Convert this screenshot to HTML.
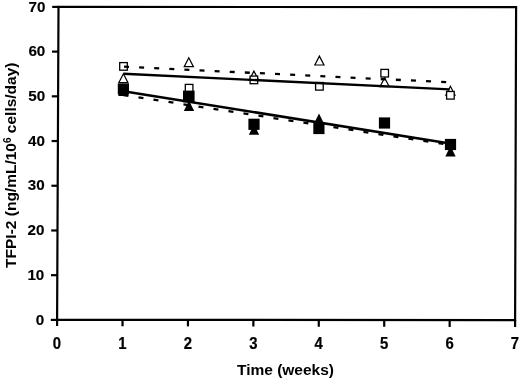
<!DOCTYPE html>
<html><head><meta charset="utf-8"><title>TFPI-2</title>
<style>html,body{margin:0;padding:0;background:#fff}svg{display:block}text{font-family:"Liberation Sans",Arial,Helvetica,sans-serif;font-weight:bold;fill:#000}</style></head><body>
<svg width="520" height="380" viewBox="0 0 520 380">
<rect width="520" height="380" fill="#fff"/>
<polygon points="58.5,6.9 516.1,7.1 515.1,320.05 57.1,319.9" fill="none" stroke="#000" stroke-width="2.2" stroke-linejoin="miter"/>
<line x1="57.10" y1="319.90" x2="57.07" y2="326.10" stroke="#000" stroke-width="2.2"/>
<text transform="translate(57.00,349.0) scale(0.98,1.04)" stroke="#000" stroke-width="0.2" font-size="15.2" text-anchor="middle">0</text>
<line x1="122.53" y1="319.92" x2="122.50" y2="326.24" stroke="#000" stroke-width="2.2"/>
<text transform="translate(122.43,349.0) scale(0.98,1.04)" stroke="#000" stroke-width="0.2" font-size="15.2" text-anchor="middle">1</text>
<line x1="187.96" y1="319.94" x2="187.93" y2="326.37" stroke="#000" stroke-width="2.2"/>
<text transform="translate(187.86,349.0) scale(0.98,1.04)" stroke="#000" stroke-width="0.2" font-size="15.2" text-anchor="middle">2</text>
<line x1="253.39" y1="319.96" x2="253.36" y2="326.51" stroke="#000" stroke-width="2.2"/>
<text transform="translate(253.29,349.0) scale(0.98,1.04)" stroke="#000" stroke-width="0.2" font-size="15.2" text-anchor="middle">3</text>
<line x1="318.81" y1="319.99" x2="318.78" y2="326.64" stroke="#000" stroke-width="2.2"/>
<text transform="translate(318.71,349.0) scale(0.98,1.04)" stroke="#000" stroke-width="0.2" font-size="15.2" text-anchor="middle">4</text>
<line x1="384.24" y1="320.01" x2="384.21" y2="326.78" stroke="#000" stroke-width="2.2"/>
<text transform="translate(384.14,349.0) scale(0.98,1.04)" stroke="#000" stroke-width="0.2" font-size="15.2" text-anchor="middle">5</text>
<line x1="449.67" y1="320.03" x2="449.64" y2="326.91" stroke="#000" stroke-width="2.2"/>
<text transform="translate(449.57,349.0) scale(0.98,1.04)" stroke="#000" stroke-width="0.2" font-size="15.2" text-anchor="middle">6</text>
<line x1="515.10" y1="320.05" x2="515.07" y2="327.05" stroke="#000" stroke-width="2.2"/>
<text transform="translate(515.00,349.0) scale(0.98,1.04)" stroke="#000" stroke-width="0.2" font-size="15.2" text-anchor="middle">7</text>
<line x1="57.10" y1="319.90" x2="50.80" y2="319.90" stroke="#000" stroke-width="2.2"/>
<text transform="translate(44.09,324.50) scale(1.0,0.99)" stroke="#000" stroke-width="0.15" font-size="15.2" text-anchor="end">0</text>
<line x1="57.30" y1="275.19" x2="51.00" y2="275.19" stroke="#000" stroke-width="2.2"/>
<text transform="translate(44.29,279.79) scale(1.0,0.99)" stroke="#000" stroke-width="0.15" font-size="15.2" text-anchor="end">10</text>
<line x1="57.50" y1="230.47" x2="51.20" y2="230.47" stroke="#000" stroke-width="2.2"/>
<text transform="translate(44.49,235.07) scale(1.0,0.99)" stroke="#000" stroke-width="0.15" font-size="15.2" text-anchor="end">20</text>
<line x1="57.70" y1="185.76" x2="51.40" y2="185.76" stroke="#000" stroke-width="2.2"/>
<text transform="translate(44.70,190.36) scale(1.0,0.99)" stroke="#000" stroke-width="0.15" font-size="15.2" text-anchor="end">30</text>
<line x1="57.90" y1="141.04" x2="51.60" y2="141.04" stroke="#000" stroke-width="2.2"/>
<text transform="translate(44.90,145.64) scale(1.0,0.99)" stroke="#000" stroke-width="0.15" font-size="15.2" text-anchor="end">40</text>
<line x1="58.10" y1="96.33" x2="51.80" y2="96.33" stroke="#000" stroke-width="2.2"/>
<text transform="translate(45.10,100.93) scale(1.0,0.99)" stroke="#000" stroke-width="0.15" font-size="15.2" text-anchor="end">50</text>
<line x1="58.30" y1="51.61" x2="52.00" y2="51.61" stroke="#000" stroke-width="2.2"/>
<text transform="translate(45.30,56.21) scale(1.0,0.99)" stroke="#000" stroke-width="0.15" font-size="15.2" text-anchor="end">60</text>
<line x1="58.50" y1="6.90" x2="52.20" y2="6.90" stroke="#000" stroke-width="2.2"/>
<text transform="translate(45.50,11.50) scale(1.0,0.99)" stroke="#000" stroke-width="0.15" font-size="15.2" text-anchor="end">70</text>
<text x="285.5" y="375" font-size="15.5" text-anchor="middle">Time (weeks)</text>
<text transform="translate(16.2,165.2) rotate(-90)" font-size="15.5" text-anchor="middle">TFPI-2 (ng/mL/10<tspan font-size="10" dy="-5.5">6</tspan><tspan dy="5.5"> cells/day)</tspan></text>
<polygon points="123.40,73.74 127.98,82.60 118.82,82.60" fill="#fff" stroke="#000" stroke-width="1.2" stroke-linejoin="miter"/>
<polygon points="188.80,57.84 193.38,66.70 184.22,66.70" fill="#fff" stroke="#000" stroke-width="1.2" stroke-linejoin="miter"/>
<polygon points="253.90,71.14 258.48,80.00 249.32,80.00" fill="#fff" stroke="#000" stroke-width="1.2" stroke-linejoin="miter"/>
<polygon points="319.40,56.14 323.98,65.00 314.82,65.00" fill="#fff" stroke="#000" stroke-width="1.2" stroke-linejoin="miter"/>
<polygon points="384.60,77.84 389.18,86.70 380.02,86.70" fill="#fff" stroke="#000" stroke-width="1.2" stroke-linejoin="miter"/>
<polygon points="450.40,86.24 454.98,95.10 445.82,95.10" fill="#fff" stroke="#000" stroke-width="1.2" stroke-linejoin="miter"/>
<rect x="119.70" y="62.60" width="7.6" height="7.6" fill="#fff" stroke="#000" stroke-width="1.3"/>
<rect x="185.30" y="84.40" width="7.6" height="7.6" fill="#fff" stroke="#000" stroke-width="1.3"/>
<rect x="250.10" y="76.10" width="7.6" height="7.6" fill="#fff" stroke="#000" stroke-width="1.3"/>
<rect x="315.60" y="82.50" width="7.6" height="7.6" fill="#fff" stroke="#000" stroke-width="1.3"/>
<rect x="380.90" y="69.40" width="7.6" height="7.6" fill="#fff" stroke="#000" stroke-width="1.3"/>
<rect x="446.60" y="91.50" width="7.6" height="7.6" fill="#fff" stroke="#000" stroke-width="1.3"/>
<polygon points="123.30,85.80 128.50,96.10 118.10,96.10" fill="#000"/>
<polygon points="189.00,100.60 194.20,110.90 183.80,110.90" fill="#000"/>
<polygon points="254.00,124.40 259.20,134.70 248.80,134.70" fill="#000"/>
<polygon points="319.00,113.60 324.20,123.90 313.80,123.90" fill="#000"/>
<polygon points="450.50,146.10 455.70,156.40 445.30,156.40" fill="#000"/>
<rect x="117.80" y="83.40" width="11.2" height="11.2" fill="#000"/>
<rect x="183.00" y="90.60" width="11.6" height="11.8" fill="#000"/>
<rect x="248.40" y="118.70" width="11.2" height="11.2" fill="#000"/>
<rect x="313.30" y="122.90" width="11.2" height="11.2" fill="#000"/>
<rect x="378.90" y="117.40" width="11.2" height="11.2" fill="#000"/>
<rect x="444.90" y="138.90" width="11.2" height="11.2" fill="#000"/>
<line x1="123.5" y1="73.7" x2="449.7" y2="89.4" stroke="#000" stroke-width="2.4"/>
<line x1="124" y1="66.7" x2="449" y2="82.3" stroke="#000" stroke-width="2.3" stroke-dasharray="5 10.12"/>
<line x1="123.5" y1="91.25" x2="450" y2="143.5" stroke="#000" stroke-width="2.5"/>
<line x1="123.5" y1="95.1" x2="450" y2="145.0" stroke="#000" stroke-width="2.3" stroke-dasharray="5 10.17"/>
</svg></body></html>
